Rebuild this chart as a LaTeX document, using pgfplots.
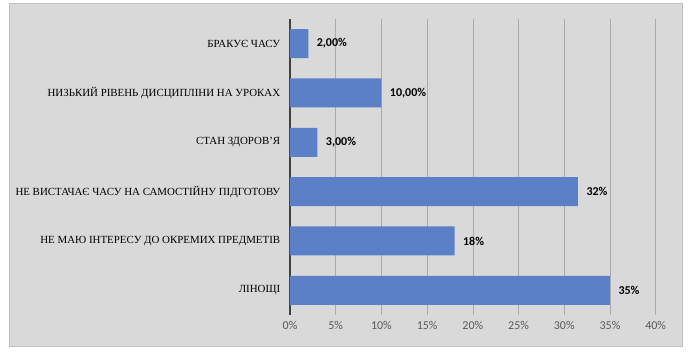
\documentclass[border=0pt]{standalone}
\usepackage{fontspec}
\setmainfont{Liberation Serif}
\newfontfamily\calibri{Carlito}
\usepackage{pgfplots}
\pgfplotsset{compat=1.18}
\definecolor{bg}{HTML}{D9D9D9}
\definecolor{frame}{HTML}{BFBFBF}
\definecolor{barblue}{HTML}{5B80C8}
\definecolor{tickgray}{HTML}{595959}
\definecolor{axisdark}{HTML}{404040}
\definecolor{gridgray}{HTML}{ABABAB}
\begin{document}
\begin{tikzpicture}[x=1pt,y=1pt]
\path[use as bounding box] (0,0) rectangle (691,352);
\draw[fill=bg, draw=frame, line width=1pt] (9.5,5.5) rectangle (682,348);
\begin{axis}[
  at={(290pt,37pt)}, anchor=south west,
  scale only axis, width=365.7pt, height=296pt,
  xbar, bar width=29pt,
  xmin=0, xmax=40, ymin=-0.5, ymax=5.5,
  axis lines*=left,
  x axis line style={draw=none},
  y axis line style={draw=axisdark, line width=1.8pt},
  xtick={0,5,...,40},
  xticklabels={0\%,5\%,10\%,15\%,20\%,25\%,30\%,35\%,40\%},
  xmajorgrids, grid style={draw=gridgray, line width=0.6pt},
  major tick style={draw=none},
  ytick={0,...,5},
  yticklabels={ЛІНОЩІ, НЕ МАЮ ІНТЕРЕСУ ДО ОКРЕМИХ ПРЕДМЕТІВ, НЕ ВИСТАЧАЄ ЧАСУ НА САМОСТІЙНУ ПІДГОТОВУ, СТАН ЗДОРОВ’Я, НИЗЬКИЙ РІВЕНЬ ДИСЦИПЛІНИ НА УРОКАХ\hspace{3pt}, БРАКУЄ ЧАСУ},
  yticklabel style={font=\fontsize{10.9}{12}\selectfont, text=black, xshift=-2pt},
  xticklabel style={font=\calibri\fontsize{12}{13}\selectfont, text=tickgray, yshift=-3pt},
  nodes near coords, point meta=explicit symbolic,
  nodes near coords style={font=\calibri\bfseries\fontsize{12}{13}\selectfont, text=black, anchor=west, xshift=5pt},
  clip=false,
]
\addplot[fill=barblue, draw=none] coordinates {
  (35,0) [35\%]
  (18,1) [18\%]
  (31.5,2) [32\%]
  (3,3) [3,00\%]
  (10,4) [10,00\%]
  (2,5) [2,00\%]
};
\end{axis}
\end{tikzpicture}
\end{document}
